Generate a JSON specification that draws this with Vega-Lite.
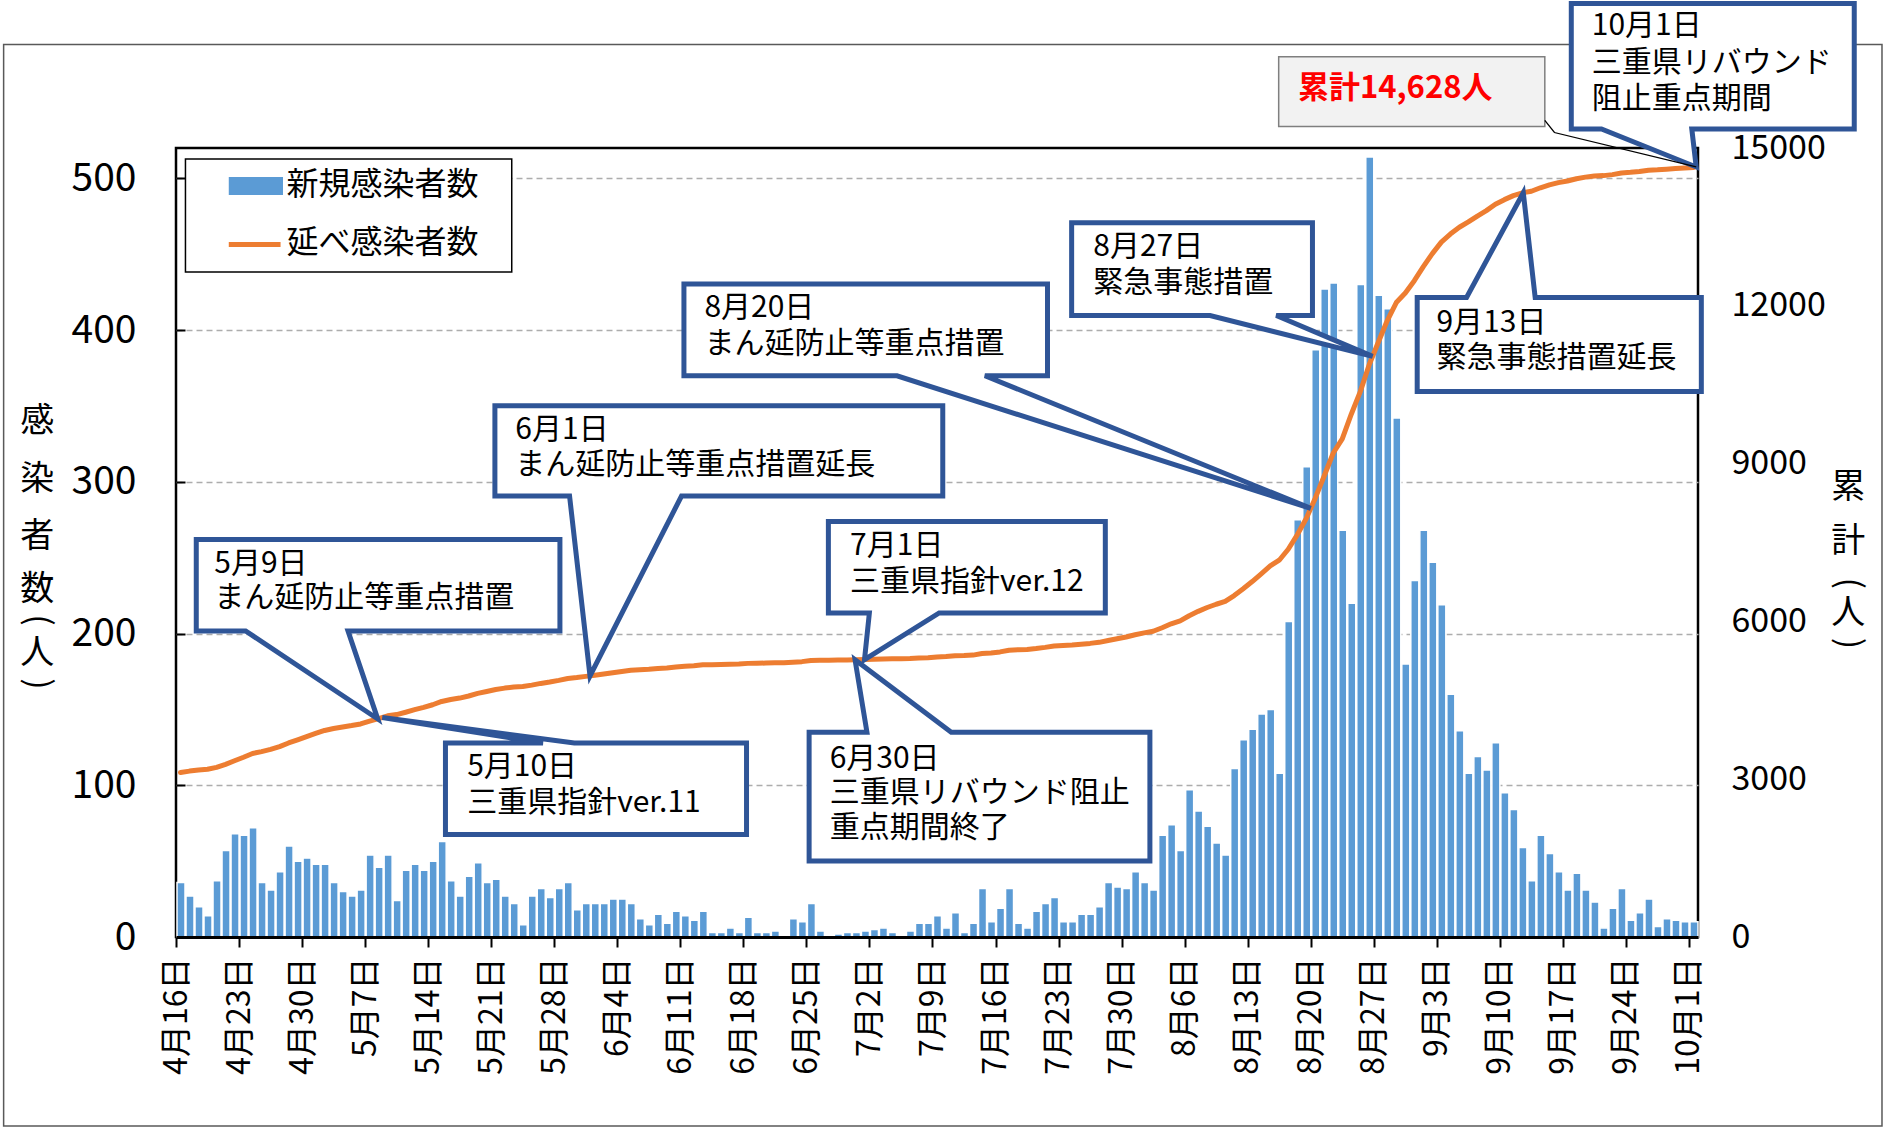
{
  "$schema": "https://vega.github.io/schema/vega-lite/v6.json",
  "width": 1522,
  "height": 789,
  "autosize": {"type": "none"},
  "padding": {"left": 176, "top": 148, "right": 190, "bottom": 192},
  "background": "white",
  "config": {
    "font": "Noto Sans CJK JP",
    "view": {"stroke": "#000000", "strokeWidth": 2.5},
    "axis": {"domain": false, "labelColor": "#000000", "tickColor": "#000000"}
  },
  "datasets": {
    "daily": [
      {"date":"2021/04/16","n":36,"c":3127},{"date":"2021/04/17","n":27,"c":3154},{"date":"2021/04/18","n":20,"c":3174},{"date":"2021/04/19","n":14,"c":3188},{"date":"2021/04/20","n":37,"c":3225},{"date":"2021/04/21","n":57,"c":3282},{"date":"2021/04/22","n":68,"c":3350},{"date":"2021/04/23","n":67,"c":3417},{"date":"2021/04/24","n":72,"c":3489},{"date":"2021/04/25","n":36,"c":3525},
      {"date":"2021/04/26","n":31,"c":3566},{"date":"2021/04/27","n":43,"c":3619},{"date":"2021/04/28","n":60,"c":3689},{"date":"2021/04/29","n":50,"c":3749},{"date":"2021/04/30","n":52,"c":3811},{"date":"2021/05/01","n":48,"c":3869},{"date":"2021/05/02","n":48,"c":3927},{"date":"2021/05/03","n":36,"c":3963},{"date":"2021/05/04","n":30,"c":3993},{"date":"2021/05/05","n":27,"c":4020},
      {"date":"2021/05/06","n":31,"c":4051},{"date":"2021/05/07","n":54,"c":4105},{"date":"2021/05/08","n":46,"c":4151},{"date":"2021/05/09","n":54,"c":4205},{"date":"2021/05/10","n":24,"c":4229},{"date":"2021/05/11","n":44,"c":4273},{"date":"2021/05/12","n":48,"c":4321},{"date":"2021/05/13","n":44,"c":4365},{"date":"2021/05/14","n":50,"c":4415},{"date":"2021/05/15","n":63,"c":4478},
      {"date":"2021/05/16","n":37,"c":4515},{"date":"2021/05/17","n":27,"c":4542},{"date":"2021/05/18","n":40,"c":4582},{"date":"2021/05/19","n":49,"c":4631},{"date":"2021/05/20","n":36,"c":4667},{"date":"2021/05/21","n":38,"c":4705},{"date":"2021/05/22","n":27,"c":4732},{"date":"2021/05/23","n":22,"c":4754},{"date":"2021/05/24","n":8,"c":4762},{"date":"2021/05/25","n":27,"c":4789},
      {"date":"2021/05/26","n":32,"c":4821},{"date":"2021/05/27","n":26,"c":4847},{"date":"2021/05/28","n":32,"c":4879},{"date":"2021/05/29","n":36,"c":4915},{"date":"2021/05/30","n":18,"c":4933},{"date":"2021/05/31","n":22,"c":4955},{"date":"2021/06/01","n":22,"c":4977},{"date":"2021/06/02","n":22,"c":4999},{"date":"2021/06/03","n":25,"c":5024},{"date":"2021/06/04","n":25,"c":5049},
      {"date":"2021/06/05","n":22,"c":5071},{"date":"2021/06/06","n":12,"c":5083},{"date":"2021/06/07","n":8,"c":5091},{"date":"2021/06/08","n":15,"c":5106},{"date":"2021/06/09","n":9,"c":5115},{"date":"2021/06/10","n":17,"c":5132},{"date":"2021/06/11","n":14,"c":5146},{"date":"2021/06/12","n":11,"c":5157},{"date":"2021/06/13","n":17,"c":5174},{"date":"2021/06/14","n":3,"c":5177},
      {"date":"2021/06/15","n":3,"c":5180},{"date":"2021/06/16","n":6,"c":5186},{"date":"2021/06/17","n":3,"c":5189},{"date":"2021/06/18","n":13,"c":5202},{"date":"2021/06/19","n":3,"c":5205},{"date":"2021/06/20","n":3,"c":5208},{"date":"2021/06/21","n":4,"c":5212},{"date":"2021/06/22","n":1,"c":5213},{"date":"2021/06/23","n":12,"c":5225},{"date":"2021/06/24","n":10,"c":5235},
      {"date":"2021/06/25","n":22,"c":5257},{"date":"2021/06/26","n":4,"c":5261},{"date":"2021/06/27","n":1,"c":5262},{"date":"2021/06/28","n":2,"c":5264},{"date":"2021/06/29","n":3,"c":5267},{"date":"2021/06/30","n":3,"c":5270},{"date":"2021/07/01","n":4,"c":5274},{"date":"2021/07/02","n":5,"c":5279},{"date":"2021/07/03","n":6,"c":5285},{"date":"2021/07/04","n":3,"c":5288},
      {"date":"2021/07/05","n":1,"c":5289},{"date":"2021/07/06","n":4,"c":5293},{"date":"2021/07/07","n":9,"c":5302},{"date":"2021/07/08","n":9,"c":5311},{"date":"2021/07/09","n":14,"c":5325},{"date":"2021/07/10","n":6,"c":5331},{"date":"2021/07/11","n":16,"c":5347},{"date":"2021/07/12","n":3,"c":5350},{"date":"2021/07/13","n":9,"c":5359},{"date":"2021/07/14","n":32,"c":5391},
      {"date":"2021/07/15","n":10,"c":5401},{"date":"2021/07/16","n":19,"c":5420},{"date":"2021/07/17","n":32,"c":5452},{"date":"2021/07/18","n":9,"c":5461},{"date":"2021/07/19","n":6,"c":5467},{"date":"2021/07/20","n":17,"c":5484},{"date":"2021/07/21","n":22,"c":5506},{"date":"2021/07/22","n":26,"c":5532},{"date":"2021/07/23","n":10,"c":5542},{"date":"2021/07/24","n":10,"c":5552},
      {"date":"2021/07/25","n":15,"c":5567},{"date":"2021/07/26","n":15,"c":5582},{"date":"2021/07/27","n":20,"c":5602},{"date":"2021/07/28","n":36,"c":5638},{"date":"2021/07/29","n":33,"c":5671},{"date":"2021/07/30","n":32,"c":5703},{"date":"2021/07/31","n":43,"c":5746},{"date":"2021/08/01","n":36,"c":5782},{"date":"2021/08/02","n":31,"c":5813},{"date":"2021/08/03","n":67,"c":5880},
      {"date":"2021/08/04","n":74,"c":5954},{"date":"2021/08/05","n":57,"c":6011},{"date":"2021/08/06","n":97,"c":6108},{"date":"2021/08/07","n":83,"c":6191},{"date":"2021/08/08","n":73,"c":6264},{"date":"2021/08/09","n":62,"c":6326},{"date":"2021/08/10","n":54,"c":6380},{"date":"2021/08/11","n":111,"c":6491},{"date":"2021/08/12","n":130,"c":6621},{"date":"2021/08/13","n":137,"c":6758},
      {"date":"2021/08/14","n":147,"c":6905},{"date":"2021/08/15","n":150,"c":7055},{"date":"2021/08/16","n":108,"c":7163},{"date":"2021/08/17","n":208,"c":7371},{"date":"2021/08/18","n":275,"c":7646},{"date":"2021/08/19","n":310,"c":7956},{"date":"2021/08/20","n":387,"c":8343},{"date":"2021/08/21","n":427,"c":8770},{"date":"2021/08/22","n":431,"c":9201},{"date":"2021/08/23","n":268,"c":9469},
      {"date":"2021/08/24","n":220,"c":9939},{"date":"2021/08/25","n":430,"c":10369},{"date":"2021/08/26","n":514,"c":10883},{"date":"2021/08/27","n":423,"c":11306},{"date":"2021/08/28","n":414,"c":11720},{"date":"2021/08/29","n":342,"c":12062},{"date":"2021/08/30","n":180,"c":12242},{"date":"2021/08/31","n":235,"c":12477},{"date":"2021/09/01","n":268,"c":12745},{"date":"2021/09/02","n":247,"c":12992},
      {"date":"2021/09/03","n":219,"c":13211},{"date":"2021/09/04","n":160,"c":13364},{"date":"2021/09/05","n":136,"c":13493},{"date":"2021/09/06","n":108,"c":13594},{"date":"2021/09/07","n":119,"c":13706},{"date":"2021/09/08","n":110,"c":13809},{"date":"2021/09/09","n":128,"c":13930},{"date":"2021/09/10","n":95,"c":14018},{"date":"2021/09/11","n":84,"c":14095},{"date":"2021/09/12","n":59,"c":14147},
      {"date":"2021/09/13","n":37,"c":14177},{"date":"2021/09/14","n":67,"c":14244},{"date":"2021/09/15","n":55,"c":14299},{"date":"2021/09/16","n":43,"c":14342},{"date":"2021/09/17","n":31,"c":14373},{"date":"2021/09/18","n":42,"c":14415},{"date":"2021/09/19","n":31,"c":14446},{"date":"2021/09/20","n":23,"c":14469},{"date":"2021/09/21","n":6,"c":14475},{"date":"2021/09/22","n":19,"c":14494},
      {"date":"2021/09/23","n":32,"c":14526},{"date":"2021/09/24","n":11,"c":14537},{"date":"2021/09/25","n":16,"c":14553},{"date":"2021/09/26","n":25,"c":14578},{"date":"2021/09/27","n":7,"c":14585},{"date":"2021/09/28","n":12,"c":14597},{"date":"2021/09/29","n":11,"c":14608},{"date":"2021/09/30","n":10,"c":14618},{"date":"2021/10/01","n":10,"c":14628}
    ]
  },
  "layer": [
    {
      "data": {"name": "daily"},
      "mark": {"type": "bar", "color": "#5B9BD5", "stroke": "#FFFFFF", "strokeWidth": 1.5},
      "encoding": {
        "x": {
          "field": "date", "type": "temporal", "timeUnit": "yearmonthdate",
          "scale": {"domain": [{"year": 2021, "month": 4, "date": 16}, {"year": 2021, "month": 10, "date": 2}], "nice": false},
          "axis": {
            "values": [{"year":2021,"month":4,"date":16},{"year":2021,"month":4,"date":23},{"year":2021,"month":4,"date":30},{"year":2021,"month":5,"date":7},{"year":2021,"month":5,"date":14},{"year":2021,"month":5,"date":21},{"year":2021,"month":5,"date":28},{"year":2021,"month":6,"date":4},{"year":2021,"month":6,"date":11},{"year":2021,"month":6,"date":18},{"year":2021,"month":6,"date":25},{"year":2021,"month":7,"date":2},{"year":2021,"month":7,"date":9},{"year":2021,"month":7,"date":16},{"year":2021,"month":7,"date":23},{"year":2021,"month":7,"date":30},{"year":2021,"month":8,"date":6},{"year":2021,"month":8,"date":13},{"year":2021,"month":8,"date":20},{"year":2021,"month":8,"date":27},{"year":2021,"month":9,"date":3},{"year":2021,"month":9,"date":10},{"year":2021,"month":9,"date":17},{"year":2021,"month":9,"date":24},{"year":2021,"month":10,"date":1}],
            "format": "%-m月%-d日", "labelAngle": -90, "labelFontSize": 32, "labelPadding": 10,
            "tickSize": 10, "tickWidth": 2, "labelOverlap": false, "labelFlush": false, "title": null,
            "grid": false, "domain": true, "domainColor": "#000000", "domainWidth": 3, "zindex": 1
          }
        },
        "y": {
          "field": "n", "type": "quantitative",
          "scale": {"domain": [0, 520], "nice": false},
          "axis": {
            "values": [0, 100, 200, 300, 400, 500], "title": null, "labelFontSize": 39, "labelPadding": 49,
            "tickSize": -9, "tickWidth": 2, "grid": true, "gridDash": [6, 4], "gridColor": "#ADADAD", "gridWidth": 1.5
          }
        }
      }
    },
    {
      "data": {"name": "daily"},
      "mark": {"type": "line", "color": "#ED7D31", "strokeWidth": 5, "strokeJoin": "round", "strokeCap": "round"},
      "encoding": {
        "x": {
          "field": "date", "type": "temporal", "timeUnit": "yearmonthdate", "bandPosition": 0.5,
          "scale": {"domain": [{"year": 2021, "month": 4, "date": 16}, {"year": 2021, "month": 10, "date": 2}], "nice": false},
          "axis": null
        },
        "y": {
          "field": "c", "type": "quantitative",
          "scale": {"domain": [0, 15000], "nice": false},
          "axis": {
            "orient": "right", "values": [0, 3000, 6000, 9000, 12000, 15000], "format": "d", "title": null,
            "labelFontSize": 34, "labelPadding": 33, "ticks": false, "tickSize": 0, "grid": false, "labelAlign": "left"
          }
        }
      }
    },
    {
      "encoding": {
        "x": {"field": "x", "type": "quantitative", "scale": {"domain": [0, 169], "nice": false, "zero": false}, "axis": null},
        "y": {"field": "y", "type": "quantitative", "scale": {"domain": [0, 520], "nice": false, "zero": false}, "axis": null}
      },
      "layer": [
        {
          "data": {"values": [{"x": -19.14, "x2": 189.43, "y": 588.2, "y2": -124.5}]},
          "mark": {"type": "rect", "fill": null, "fillOpacity": 0, "stroke": "#595959", "strokeWidth": 1.5},
          "encoding": {"x2": {"field": "x2"}, "y2": {"field": "y2"}}
        },
        {
          "data": {"values": [{"x": 1.05, "x2": 37.28, "y": 512.8, "y2": 438.2}]},
          "mark": {"type": "rect", "fill": "#FFFFFF", "stroke": "#000000", "strokeWidth": 1.5},
          "encoding": {"x2": {"field": "x2"}, "y2": {"field": "y2"}}
        },
        {
          "data": {"values": [{"x": 5.86, "x2": 11.88, "y": 500.9, "y2": 489.0}]},
          "mark": {"type": "rect", "fill": "#5B9BD5"},
          "encoding": {"x2": {"field": "x2"}, "y2": {"field": "y2"}}
        },
        {
          "data": {"values": [{"x": 5.86, "x2": 11.61, "y": 456.4}]},
          "mark": {"type": "rule", "stroke": "#ED7D31", "strokeWidth": 5},
          "encoding": {"x2": {"field": "x2"}}
        },
        {
          "data": {"values": [{"x": 12.28, "y": 495.3, "t": "新規感染者数"}, {"x": 12.28, "y": 457.2, "t": "延べ感染者数"}]},
          "mark": {"type": "text", "align": "left", "baseline": "middle", "fontSize": 32, "color": "#000000"},
          "encoding": {"text": {"field": "t"}}
        },
        {
          "data": {"values": [
            {"id":"A","k":0,"x":2.25,"y":262.0},{"id":"A","k":1,"x":42.63,"y":262.0},{"id":"A","k":2,"x":42.63,"y":201.7},{"id":"A","k":3,"x":19.10,"y":201.7},{"id":"A","k":4,"x":22.4,"y":143.7},{"id":"A","k":5,"x":7.73,"y":201.7},{"id":"A","k":6,"x":2.25,"y":201.7},{"id":"A","k":7,"x":2.25,"y":262.0},
            {"id":"B","k":0,"x":29.92,"y":127.9},{"id":"B","k":1,"x":40.75,"y":127.9},{"id":"B","k":2,"x":22.9,"y":144.6},{"id":"B","k":3,"x":44.23,"y":127.9},{"id":"B","k":4,"x":63.35,"y":127.9},{"id":"B","k":5,"x":63.35,"y":67.6},{"id":"B","k":6,"x":29.92,"y":67.6},{"id":"B","k":7,"x":29.92,"y":127.9},
            {"id":"C","k":0,"x":35.41,"y":350.1},{"id":"C","k":1,"x":85.14,"y":350.1},{"id":"C","k":2,"x":85.14,"y":290.6},{"id":"C","k":3,"x":56.13,"y":290.6},{"id":"C","k":4,"x":45.97,"y":172.1},{"id":"C","k":5,"x":43.70,"y":290.6},{"id":"C","k":6,"x":35.41,"y":290.6},{"id":"C","k":7,"x":35.41,"y":350.1},
            {"id":"D","k":0,"x":56.40,"y":430.3},{"id":"D","k":1,"x":96.77,"y":430.3},{"id":"D","k":2,"x":96.77,"y":369.9},{"id":"D","k":3,"x":89.82,"y":369.9},{"id":"D","k":4,"x":126.0,"y":282.5},{"id":"D","k":5,"x":80.06,"y":369.9},{"id":"D","k":6,"x":56.40,"y":369.9},{"id":"D","k":7,"x":56.40,"y":430.3},
            {"id":"E","k":0,"x":72.44,"y":273.9},{"id":"E","k":1,"x":103.19,"y":273.9},{"id":"E","k":2,"x":103.19,"y":213.6},{"id":"E","k":3,"x":84.74,"y":213.6},{"id":"E","k":4,"x":76.45,"y":182.8},{"id":"E","k":5,"x":76.99,"y":213.6},{"id":"E","k":6,"x":72.44,"y":213.6},{"id":"E","k":7,"x":72.44,"y":273.9},
            {"id":"F","k":0,"x":70.30,"y":135.0},{"id":"F","k":1,"x":76.72,"y":135.0},{"id":"F","k":2,"x":75.4,"y":182.7},{"id":"F","k":3,"x":86.08,"y":135.0},{"id":"F","k":4,"x":108.14,"y":135.0},{"id":"F","k":5,"x":108.14,"y":50.1},{"id":"F","k":6,"x":70.30,"y":50.1},{"id":"F","k":7,"x":70.30,"y":135.0},
            {"id":"G","k":0,"x":99.45,"y":470.7},{"id":"G","k":1,"x":126.19,"y":470.7},{"id":"G","k":2,"x":126.19,"y":409.6},{"id":"G","k":3,"x":122.17,"y":409.6},{"id":"G","k":4,"x":132.87,"y":382.7},{"id":"G","k":5,"x":114.82,"y":409.6},{"id":"G","k":6,"x":99.45,"y":409.6},{"id":"G","k":7,"x":99.45,"y":470.7},
            {"id":"H","k":0,"x":137.82,"y":421.5},{"id":"H","k":1,"x":143.30,"y":421.5},{"id":"H","k":2,"x":149.6,"y":490.5},{"id":"H","k":3,"x":150.92,"y":421.5},{"id":"H","k":4,"x":169.37,"y":421.5},{"id":"H","k":5,"x":169.37,"y":359.6},{"id":"H","k":6,"x":137.82,"y":359.6},{"id":"H","k":7,"x":137.82,"y":421.5},
            {"id":"I","k":0,"x":154.93,"y":615.2},{"id":"I","k":1,"x":186.35,"y":615.2},{"id":"I","k":2,"x":186.35,"y":532.6},{"id":"I","k":3,"x":168.31,"y":532.6},{"id":"I","k":4,"x":168.8,"y":507.5},{"id":"I","k":5,"x":158.28,"y":532.6},{"id":"I","k":6,"x":154.93,"y":532.6},{"id":"I","k":7,"x":154.93,"y":615.2}
          ]},
          "mark": {"type": "line", "fill": "#FFFFFF", "stroke": "#2F5597", "strokeWidth": 5, "strokeJoin": "miter", "strokeCap": "square"},
          "encoding": {"detail": {"field": "id"}, "order": {"field": "k", "type": "quantitative"}}
        },
        {
          "data": {"values": [
            {"x":4.25,"y":246.1,"t":"5月9日"},{"x":4.25,"y":223.1,"t":"まん延防止等重点措置"},
            {"x":32.33,"y":112.0,"t":"5月10日"},{"x":32.33,"y":88.2,"t":"三重県指針ver.11"},
            {"x":37.68,"y":334.2,"t":"6月1日"},{"x":37.68,"y":311.2,"t":"まん延防止等重点措置延長"},
            {"x":58.67,"y":414.4,"t":"8月20日"},{"x":58.67,"y":390.6,"t":"まん延防止等重点措置"},
            {"x":74.85,"y":258.0,"t":"7月1日"},{"x":74.85,"y":234.2,"t":"三重県指針ver.12"},
            {"x":72.58,"y":117.6,"t":"6月30日"},{"x":72.58,"y":94.6,"t":"三重県リバウンド阻止"},{"x":72.58,"y":71.6,"t":"重点期間終了"},
            {"x":101.85,"y":454.9,"t":"8月27日"},{"x":101.85,"y":431.0,"t":"緊急事態措置"},
            {"x":139.96,"y":404.9,"t":"9月13日"},{"x":139.96,"y":381.9,"t":"緊急事態措置延長"},
            {"x":157.21,"y":600.1,"t":"10月1日"},{"x":157.21,"y":576.3,"t":"三重県リバウンド"},{"x":157.21,"y":552.5,"t":"阻止重点期間"}
          ]},
          "mark": {"type": "text", "align": "left", "baseline": "middle", "fontSize": 30, "color": "#000000"},
          "encoding": {"text": {"field": "t"}}
        },
        {
          "data": {"values": [{"x": 122.44, "x2": 151.99, "y": 580.2, "y2": 534.2}]},
          "mark": {"type": "rect", "fill": "#F2F2F2", "stroke": "#7F7F7F", "strokeWidth": 1.5},
          "encoding": {"x2": {"field": "x2"}, "y2": {"field": "y2"}}
        },
        {
          "data": {"values": [{"k": 0, "x": 151.99, "y": 538.2}, {"k": 1, "x": 153.06, "y": 530.2}, {"k": 2, "x": 168.8, "y": 507.5}]},
          "mark": {"type": "line", "stroke": "#000000", "strokeWidth": 1.3},
          "encoding": {"order": {"field": "k", "type": "quantitative"}}
        },
        {
          "data": {"values": [{"x": 124.58, "y": 558.8, "t": "累計14,628人"}]},
          "mark": {"type": "text", "align": "left", "baseline": "middle", "fontSize": 31, "fontWeight": "bold", "color": "#FF0000"},
          "encoding": {"text": {"field": "t"}}
        },
        {
          "data": {"values": [
            {"x":-15.40,"y":339.4,"t":"感"},{"x":-15.40,"y":301.2,"t":"染"},{"x":-15.40,"y":263.6,"t":"者"},{"x":-15.40,"y":228.7,"t":"数"},{"x":-15.40,"y":186.5,"t":"人"},
            {"x":185.68,"y":296.1,"t":"累"},{"x":185.68,"y":260.5,"t":"計"},{"x":185.68,"y":212.8,"t":"人"}
          ]},
          "mark": {"type": "text", "align": "center", "baseline": "middle", "fontSize": 34, "color": "#000000"},
          "encoding": {"text": {"field": "t"}}
        },
        {
          "data": {"values": [
            {"x":-15.40,"y":208.9,"t":"("},{"x":-15.40,"y":166.7,"t":")"},
            {"x":185.68,"y":233.1,"t":"("},{"x":185.68,"y":193.4,"t":")"}
          ]},
          "mark": {"type": "text", "align": "center", "baseline": "middle", "fontSize": 34, "angle": 90, "color": "#000000"},
          "encoding": {"text": {"field": "t"}}
        }
      ]
    }
  ],
  "resolve": {"scale": {"x": "independent", "y": "independent"}}
}
